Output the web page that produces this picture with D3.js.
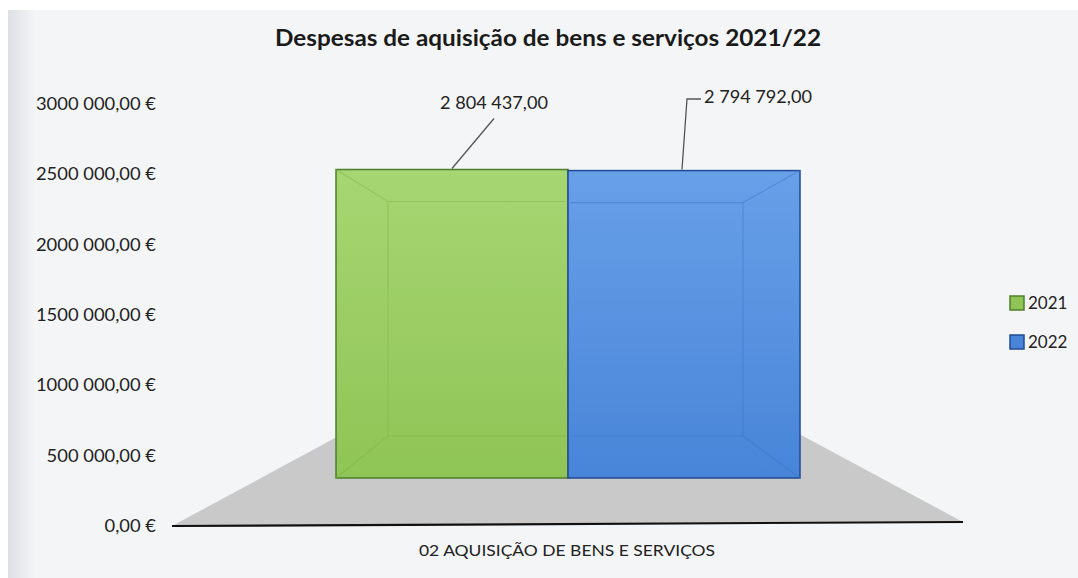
<!DOCTYPE html>
<html>
<head>
<meta charset="utf-8">
<script src="https://cdn.jsdelivr.net/npm/d3@7"></script>
<style>
	html, body { margin: 0; padding: 0; background: #fff; }
	svg { display: block; }
</style>
</head>
<body>
<div id="chart"></div>
<script>
// Data
const title = "Despesas de aquisição de bens e serviços 2021/22";
const categories = ["02 AQUISIÇÃO DE BENS E SERVIÇOS"];
const years = ["2021", "2022"];
const values = [2804437, 2794792];
const yTicks = [0, 500000, 1000000, 1500000, 2000000, 2500000, 3000000];
const colors = ["#8fc456", "#4884d8"];
const lightColors = ["#a6d672", "#68a0e8"];
const borders = ["#4f7f2a", "#1f4a96"];

const width = 1078;
const height = 578;

// Portuguese style formats (axis shows "3000 000,00 €", labels "2 804 437,00")
const axisLocale = d3.formatLocale({ decimal: ",", thousands: " ", grouping: [3, 6], currency: ["", " €"] });
const labelLocale = d3.formatLocale({ decimal: ",", thousands: " ", grouping: [3], currency: ["", ""] });
const axisFormat = axisLocale.format("$,.2f");
const labelFormat = labelLocale.format(",.2f");

const font = "Lato, 'Open Sans', sans-serif";

const svg = d3.select("#chart")
	.append("svg")
	.attr("width", width)
	.attr("height", height)
	.attr("font-family", font);

const defs = svg.append("defs");

// scanned page background
const edge = defs.append("linearGradient").attr("id", "edge");
edge.append("stop").attr("offset", "0%").attr("stop-color", "#dcdfe5");
edge.append("stop").attr("offset", "100%").attr("stop-color", "#f3f4f6");

years.forEach((y, i) => {
	const g = defs.append("linearGradient")
		.attr("id", "bar" + i)
		.attr("x1", 0).attr("y1", 0).attr("x2", 0).attr("y2", 1);
	g.append("stop").attr("offset", "0%").attr("stop-color", lightColors[i]);
	g.append("stop").attr("offset", "100%").attr("stop-color", colors[i]);
});

svg.append("rect")
	.attr("x", 8).attr("y", 10)
	.attr("width", width - 8).attr("height", height - 10)
	.attr("fill", "#f4f5f7");
svg.append("rect")
	.attr("x", 8).attr("y", 10)
	.attr("width", 26).attr("height", height - 10)
	.attr("fill", "url(#edge)");

// Scales
const y = d3.scaleLinear().domain([0, 3000000]).range([526, 104]);
// front face of the 3D bars sits lower and is foreshortened
const yBar = d3.scaleLinear().domain([0, 3000000]).range([478, 148]);
const x = d3.scaleBand().domain(years).range([336, 800]).padding(0);
const plotLeft = 172;
const plotRight = 963;
const tilt = 4; // scan is slightly rotated

// Floor (grey trapezoid seen in perspective)
const floorBack = 405;
const floor = d3.line()([
	[plotLeft, y(0)],
	[x.range()[0] + 60, floorBack],
	[x.range()[1] - 55, floorBack],
	[plotRight, y(0) - tilt]
]);
svg.append("path")
	.attr("d", floor + "Z")
	.attr("fill", "#c9c9ca");

// Axis line at 0
svg.append("line")
	.attr("x1", plotLeft).attr("x2", plotRight)
	.attr("y1", y(0)).attr("y2", y(0) - tilt)
	.attr("stroke", "#111")
	.attr("stroke-width", 2.2);

// Y axis labels
const yAxis = svg.append("g")
	.attr("transform", `translate(156,0)`)
	.call(d3.axisLeft(y).tickValues(yTicks).tickFormat(axisFormat).tickSize(0).tickPadding(0));
yAxis.select(".domain").remove();
yAxis.selectAll(".tick text")
	.attr("font-family", font)
	.attr("font-size", 17)
	.attr("fill", "#222")
	.each(function () {
		const w = this.getComputedTextLength();
		d3.select(this).attr("textLength", w * 1.08).attr("lengthAdjust", "spacingAndGlyphs");
	});

// Bars
const bars = svg.append("g")
	.selectAll("g")
	.data(values)
	.join("g");

bars.append("rect")
	.attr("x", (d, i) => x(years[i]))
	.attr("y", d => yBar(d))
	.attr("width", x.bandwidth())
	.attr("height", d => yBar(0) - yBar(d))
	.attr("fill", (d, i) => `url(#bar${i})`)
	.attr("stroke", (d, i) => borders[i])
	.attr("stroke-width", 1.5);

// bevel lines (the two bars read as one block)
const bevel = { left: 52, right: 57, top: 32, bottom: 42 };
bars.each(function (d, i) {
	const g = d3.select(this);
	const x0 = x(years[i]), x1 = x0 + x.bandwidth();
	const y0 = yBar(d), y1 = yBar(0);
	const ix0 = i === 0 ? x0 + bevel.left : x0 + 2;
	const ix1 = i === years.length - 1 ? x1 - bevel.right : x1 - 2;
	const iy0 = y0 + bevel.top, iy1 = y1 - bevel.bottom;
	const pts = [];
	pts.push([[ix0, iy0], [ix1, iy0]]);
	pts.push([[ix0, iy1], [ix1, iy1]]);
	if (i === 0) {
		pts.push([[ix0, iy0], [ix0, iy1]]);
		pts.push([[x0, y0], [ix0, iy0]]);
		pts.push([[x0, y1], [ix0, iy1]]);
	}
	if (i === years.length - 1) {
		pts.push([[ix1, iy0], [ix1, iy1]]);
		pts.push([[x1, y0], [ix1, iy0]]);
		pts.push([[x1, y1], [ix1, iy1]]);
	}
	g.selectAll("path.bevel")
		.data(pts)
		.join("path")
		.attr("class", "bevel")
		.attr("d", p => d3.line()(p))
		.attr("fill", "none")
		.attr("stroke", i === 0 ? "#7fb24a" : "#3b74c6")
		.attr("stroke-width", 1.2)
		.attr("opacity", 0.45);
});

// Data labels with leader lines
const labelPos = [
	{ textX: 494, textY: 103, leader: (bx, by) => [[bx, by], [bx + 42, by - 50]] },
	{ textX: 758, textY: 97, leader: (bx, by) => [[bx, by], [bx + 5, 99], [bx + 19, 99]] }
];
values.forEach((v, i) => {
	const bx = i === 0 ? x(years[i]) + 116 : x(years[i]) + 114;
	const by = yBar(v) - 1;
	svg.append("path")
		.attr("d", d3.line()(labelPos[i].leader(bx, by)))
		.attr("fill", "none")
		.attr("stroke", "#555")
		.attr("stroke-width", 1.3);
	svg.append("text")
		.attr("x", labelPos[i].textX)
		.attr("y", labelPos[i].textY)
		.attr("dy", "0.35em")
		.attr("text-anchor", "middle")
		.attr("font-size", 17)
		.attr("fill", "#222")
		.attr("textLength", 108)
		.attr("lengthAdjust", "spacingAndGlyphs")
		.text(labelFormat(v));
});

// Category label
svg.append("text")
	.attr("x", 567)
	.attr("y", 550)
	.attr("dy", "0.35em")
	.attr("text-anchor", "middle")
	.attr("font-size", 16)
	.attr("fill", "#222")
	.attr("textLength", 296)
	.attr("lengthAdjust", "spacingAndGlyphs")
	.text(categories[0]);

// Title
svg.append("text")
	.attr("x", 548)
	.attr("y", 38)
	.attr("dy", "0.35em")
	.attr("text-anchor", "middle")
	.attr("font-size", 22)
	.attr("font-weight", "bold")
	.attr("fill", "#1a1a1a")
	.attr("textLength", 546)
	.attr("lengthAdjust", "spacingAndGlyphs")
	.text(title);

// Legend
const legend = svg.append("g")
	.attr("transform", "translate(1010,303)")
	.selectAll("g")
	.data(years)
	.join("g")
	.attr("transform", (d, i) => `translate(0,${i * 39})`);
legend.append("rect")
	.attr("x", 0).attr("y", -7)
	.attr("width", 14).attr("height", 14)
	.attr("fill", (d, i) => colors[i])
	.attr("stroke", (d, i) => borders[i])
	.attr("stroke-width", 1.5);
legend.append("text")
	.attr("x", 18)
	.attr("dy", "0.35em")
	.attr("font-size", 17)
	.attr("fill", "#222")
	.text(d => d);
</script>
</body>
</html>
